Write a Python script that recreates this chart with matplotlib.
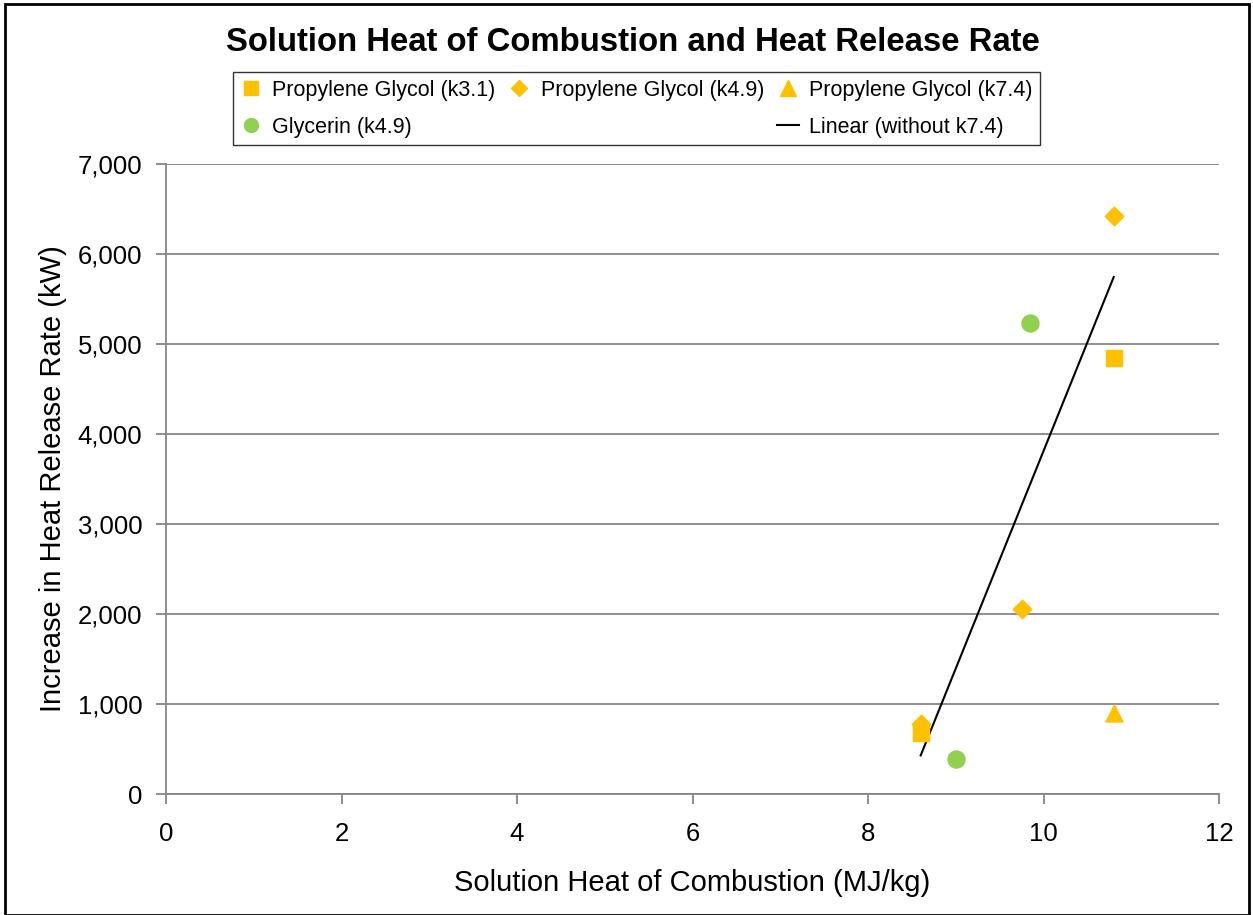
import numpy as np
import matplotlib.pyplot as plt
from matplotlib.patches import Rectangle
from matplotlib.lines import Line2D

plt.rcParams['font.family'] = ['Liberation Sans', 'DejaVu Sans']

# data
pg31_x = [8.6, 10.8]
pg31_y = [680, 4840]
pg49_x = [8.6, 9.75, 10.8]
pg49_y = [780, 2060, 6420]
pg74_x = [10.8]
pg74_y = [900]
gly_x = [9.0, 9.85]
gly_y = [390, 5230]

orange = '#FFC000'
green = '#92D050'
grid_col = '#868686'

fig = plt.figure(figsize=(12.53, 9.15), dpi=100)
ax = fig.add_axes([0.1325, 0.1322, 0.8404, 0.6886])

ax.scatter(pg31_x, pg31_y, marker='s', s=130, color=orange, zorder=3)
ax.scatter(pg49_x, pg49_y, marker='D', s=90, color=orange, zorder=3)
ax.scatter(pg74_x, pg74_y, marker='^', s=150, color=orange, zorder=3)
ax.scatter(gly_x, gly_y, marker='o', s=150, color=green, zorder=3)

# linear trend of everything except k7.4
fit_x = np.array(pg31_x + pg49_x + gly_x)
fit_y = np.array(pg31_y + pg49_y + gly_y)
m, c = np.polyfit(fit_x, fit_y, 1)
lx = np.array([fit_x.min(), fit_x.max()])
ax.plot(lx, m * lx + c, color='black', lw=1.5, zorder=2)

ax.set_xlim(0, 12)
ax.set_ylim(0, 7000)
ax.set_xticks(np.arange(0, 13, 2))
ax.set_yticks(np.arange(0, 7001, 1000))
ax.set_yticklabels(['{:,}'.format(v) for v in range(0, 7001, 1000)])
ax.grid(axis='y', color=grid_col, lw=1.3)
ax.set_axisbelow(True)
for s in ['top', 'right']:
    ax.spines[s].set_visible(False)
for s in ['left', 'bottom']:
    ax.spines[s].set_color(grid_col)
    ax.spines[s].set_linewidth(1.3)
ax.tick_params(axis='both', colors=grid_col, labelcolor='black', labelsize=18.5,
               length=7, width=1.3)
ax.tick_params(axis='x', pad=13)
ax.tick_params(axis='y', pad=10)

ax.set_xlabel('Solution Heat of Combustion (MJ/kg)', fontsize=21, labelpad=17)
ax.set_ylabel('Increase in Heat Release Rate (kW)', fontsize=21, labelpad=8)

fig.text(0.505, 0.954, 'Solution Heat of Combustion and Heat Release Rate',
         ha='center', va='center', fontsize=23.7, fontweight='bold')

handles = [
    Line2D([], [], ls='none', marker='s', ms=10, color=orange),
    Line2D([], [], ls='none', marker='o', ms=10, color=green),
    Line2D([], [], ls='none', marker='D', ms=8, color=orange),
    Line2D([], [], ls='none'),
    Line2D([], [], ls='none', marker='^', ms=11, color=orange),
    Line2D([], [], color='black', lw=1.5),
]
labels = ['Propylene Glycol (k3.1)', 'Glycerin (k4.9)', 'Propylene Glycol (k4.9)', '',
          'Propylene Glycol (k7.4)', 'Linear (without k7.4)']
leg = fig.legend(handles, labels, ncol=3, loc='center', bbox_to_anchor=(0.508, 0.881),
                 fontsize=15.5, frameon=True, fancybox=False, edgecolor='black',
                 handlelength=1.0, handletextpad=0.5, columnspacing=0.6,
                 borderpad=0.35, labelspacing=0.75)
leg.get_frame().set_linewidth(1.0)

fig.patches.append(Rectangle((0.004, 0.0), 0.993, 0.996, transform=fig.transFigure,
                             fill=False, edgecolor='black', lw=2))

fig.savefig('out.png', dpi=100)
